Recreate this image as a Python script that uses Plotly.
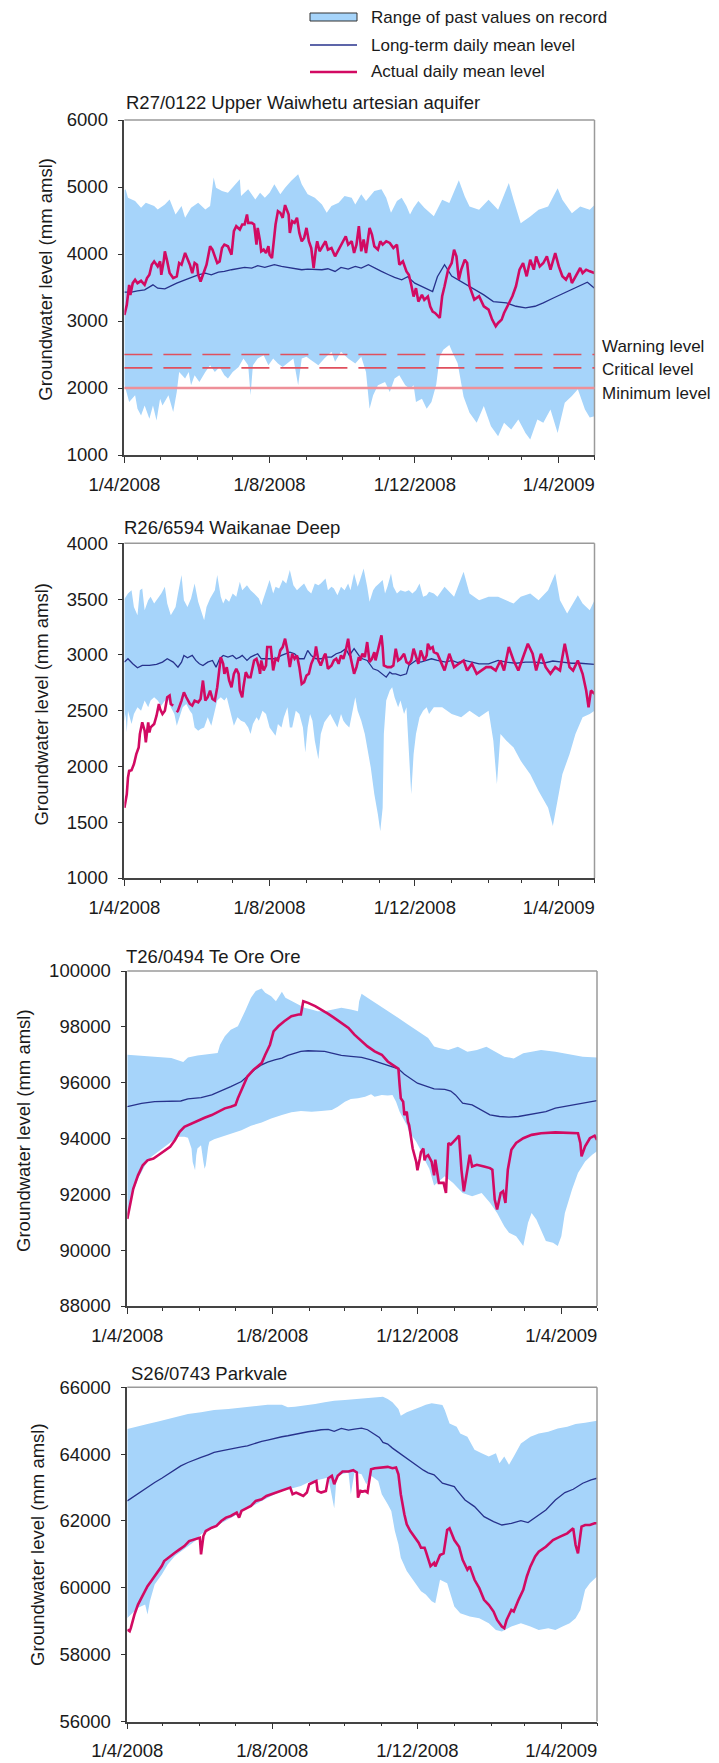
import pandas as pd
import plotly.graph_objects as go

# ---------------- DATA (day offset from 1/4/2008, value in mm amsl) ----------------
START = "2008-04-01"
END = "2009-05-01"

# R27/0122 Upper Waiwhetu artesian aquifer
p1_upper = [(0,4950),(1,4965),(3,4840),(9,4790),(14,4690),(18,4765),(25,4715),(28,4665),(34,4740),(38,4815),(43,4590),(48,4715),(51,4540),(56,4690),(62,4765),(68,4665),(72,4715),(75,5140),(77,4990),(82,4940),(87,4915),(93,5040),(97,5115),(98,4865),(104,4965),(110,4815),(114,4915),(118,4840),(122,4915),(126,5040),(131,4890),(135,4990),(140,5090),(146,5190),(149,5040),(154,4890),(160,4840),(166,4740),(170,4615),(174,4715),(180,4765),(185,4865),(191,4840),(194,4740),(199,4890),(203,4790),(210,4940),(216,4965),(220,4840),(224,4615),(229,4790),(233,4840),(237,4715),(240,4590),(243,4690),(247,4790),(252,4690),(260,4565),(267,4810),(273,4760),(281,5100),(286,4860),(290,4710),(298,4660),(306,4810),(314,4660),(323,5060),(327,4810),(333,4460),(341,4560),(348,4660),(356,4710),(364,4980),(368,4810),(376,4610),(383,4710),(391,4660),(395,4730)]
p1_lower = [(0,2050),(1,1990),(4,1790),(9,1890),(11,1690),(14,1590),(17,1740),(21,1540),(24,1740),(27,1515),(30,1840),(32,1740),(37,1890),(41,1640),(44,1940),(46,2240),(51,2140),(54,2240),(56,2040),(59,2190),(63,2090),(68,2240),(72,2340),(76,2240),(80,2315),(84,2190),(87,2140),(91,2240),(96,2315),(100,2440),(104,2340),(106,1890),(108,2340),(112,2440),(117,2490),(121,2340),(125,2440),(129,2365),(133,2315),(138,2390),(142,2440),(146,2040),(149,2440),(153,2465),(157,2415),(163,2340),(168,2440),(174,2540),(177,2390),(182,2540),(188,2440),(194,2365),(199,2465),(203,2240),(206,1690),(209,1890),(213,2040),(219,2090),(223,1940),(227,2140),(231,2190),(236,2040),(240,1990),(243,2040),(245,1790),(250,1840),(254,1690),(258,1790),(262,2050),(265,2470),(268,2570),(273,2640),(276,2520),(280,2370),(282,2170),(285,1870),(290,1630),(296,1480),(302,1730),(308,1430),(314,1280),(319,1480),(325,1380),(331,1530),(337,1330),(341,1230),(347,1530),(352,1480),(358,1680),(364,1330),(370,1780),(376,1880),(381,1980),(387,1680),(391,1560),(395,1580)]
p1_mean = [(0,3430),(6,3430),(11,3450),(17,3465),(24,3540),(28,3490),(34,3480),(38,3515),(44,3565),(51,3615),(56,3650),(62,3690),(68,3715),(73,3690),(79,3730),(84,3740),(90,3765),(96,3790),(101,3800),(107,3790),(112,3825),(118,3800),(122,3815),(126,3840),(132,3815),(138,3800),(143,3790),(149,3765),(154,3775),(160,3765),(166,3765),(171,3780),(177,3740),(182,3800),(188,3775),(194,3815),(199,3790),(205,3840),(210,3800),(216,3740),(222,3690),(227,3650),(233,3615),(238,3660),(244,3565),(250,3515),(255,3465),(259,3440),(263,3660),(269,3840),(275,3670),(283,3590),(294,3470),(302,3390),(310,3290),(321,3270),(329,3220),(337,3195),(345,3220),(352,3270),(360,3340),(372,3440),(383,3520),(389,3580),(395,3490)]
p1_actual = [(0,3090),(2,3240),(4,3540),(5,3390),(7,3565),(9,3615),(11,3565),(14,3600),(17,3540),(19,3640),(21,3690),(23,3840),(25,3890),(28,3815),(30,3890),(31,3690),(33,3890),(34,4040),(36,3890),(38,3715),(41,3640),(44,3665),(46,3865),(48,3840),(51,4015),(53,3940),(55,3840),(57,3715),(59,3865),(61,3840),(62,3690),(64,3590),(66,3690),(69,3840),(72,4115),(74,4065),(76,3965),(78,3865),(80,3890),(82,4090),(84,4140),(87,4115),(90,3990),(92,4340),(94,4415),(97,4365),(99,4440),(101,4440),(103,4590),(104,4465),(107,4465),(109,4440),(111,4140),(112,4390),(114,4190),(115,4040),(117,4065),(119,4015),(121,4115),(122,3990),(124,3940),(125,4140),(127,4440),(129,4640),(131,4615),(133,4540),(135,4730),(138,4590),(139,4315),(141,4490),(143,4465),(145,4540),(147,4315),(149,4190),(151,4240),(153,4390),(155,4190),(157,4090),(159,3790),(161,4090),(162,4190),(164,4040),(167,4140),(169,4190),(171,4065),(174,4090),(177,3965),(180,4065),(182,4140),(184,4190),(186,4265),(188,4140),(191,4190),(193,4015),(195,4140),(197,4415),(199,4040),(201,4215),(203,4015),(206,4390),(208,4290),(210,4115),(213,4065),(215,4190),(217,4140),(220,4190),(223,4165),(226,4090),(229,4140),(231,3840),(234,3890),(237,3740),(239,3690),(241,3540),(243,3365),(245,3490),(247,3290),(250,3390),(252,3315),(255,3365),(257,3215),(259,3140),(261,3120),(265,3046),(267,3369),(269,3518),(272,3766),(275,3865),(277,4064),(279,3964),(281,3617),(283,3766),(286,3915),(288,3865),(290,3518),(294,3319),(298,3369),(302,3220),(306,3170),(309,3021),(312,2922),(314,2971),(317,3021),(319,3120),(323,3269),(326,3369),(329,3518),(332,3766),(335,3865),(338,3667),(341,3915),(344,3766),(346,3964),(349,3815),(352,3865),(355,3964),(358,3766),(362,4014),(365,3815),(368,3667),(371,3617),(374,3716),(376,3567),(379,3667),(383,3791),(385,3716),(388,3766),(391,3741),(395,3716)]
p1_levels = [2500, 2300, 2000]
p1_level_names = ["Warning level", "Critical level", "Minimum level"]

# R26/6594 Waikanae Deep
p2_upper = [(0,3500),(1,3520),(3,3550),(6,3580),(8,3430),(11,3355),(13,3580),(15,3595),(17,3400),(20,3490),(22,3520),(25,3460),(28,3505),(31,3550),(34,3610),(36,3460),(39,3355),(43,3430),(45,3550),(48,3715),(50,3490),(53,3430),(56,3505),(59,3640),(62,3475),(64,3415),(67,3310),(69,3430),(72,3505),(76,3580),(78,3715),(81,3520),(83,3460),(85,3505),(88,3475),(91,3550),(94,3520),(97,3655),(99,3580),(103,3625),(106,3580),(109,3550),(113,3505),(115,3445),(118,3535),(122,3670),(125,3550),(127,3610),(130,3595),(133,3670),(136,3640),(139,3760),(142,3625),(145,3580),(148,3610),(151,3640),(154,3580),(157,3550),(160,3640),(163,3625),(165,3640),(169,3685),(171,3580),(174,3610),(176,3595),(179,3535),(182,3610),(185,3580),(188,3640),(190,3580),(193,3730),(196,3610),(198,3670),(201,3775),(204,3610),(206,3475),(209,3580),(211,3610),(214,3640),(217,3670),(219,3550),(221,3610),(224,3730),(226,3610),(229,3550),(232,3580),(236,3565),(239,3580),(242,3550),(245,3580),(248,3640),(251,3520),(254,3535),(256,3565),(260,3550),(263,3520),(269,3610),(277,3520),(285,3745),(290,3550),(298,3490),(306,3520),(314,3520),(321,3490),(327,3460),(333,3520),(341,3550),(348,3490),(356,3580),(362,3730),(366,3490),(372,3370),(377,3460),(381,3535),(385,3460),(391,3400),(395,3490)]
p2_lower = [(0,2400),(1,2470),(2,2305),(3,2500),(6,2380),(8,2470),(11,2530),(14,2500),(17,2590),(20,2530),(22,2590),(25,2620),(28,2590),(31,2545),(34,2590),(36,2620),(39,2530),(42,2470),(44,2365),(46,2440),(49,2530),(52,2560),(55,2500),(57,2470),(59,2350),(62,2320),(64,2335),(67,2350),(70,2440),(73,2365),(76,2500),(78,2590),(81,2620),(84,2590),(86,2620),(88,2530),(90,2455),(92,2365),(95,2440),(98,2410),(101,2395),(104,2350),(106,2290),(108,2380),(111,2440),(113,2410),(116,2500),(119,2470),(122,2350),(125,2305),(127,2275),(129,2380),(132,2350),(134,2440),(137,2530),(139,2350),(141,2350),(144,2500),(147,2470),(150,2350),(152,2125),(154,2350),(156,2470),(158,2410),(160,2230),(163,2065),(165,2290),(168,2395),(171,2440),(173,2470),(176,2410),(179,2350),(182,2470),(184,2410),(186,2380),(189,2350),(192,2500),(194,2620),(196,2500),(199,2410),(202,2290),(204,2170),(207,1990),(210,1750),(213,1570),(215,1420),(217,1630),(218,2290),(220,2590),(223,2680),(225,2710),(227,2620),(230,2530),(232,2590),(235,2470),(237,2530),(238,2350),(240,1930),(241,1750),(243,2110),(245,2290),(248,2440),(251,2500),(254,2530),(256,2470),(260,2530),(267,2530),(275,2470),(283,2440),(290,2500),(298,2440),(306,2500),(310,2230),(313,1840),(316,2290),(321,2230),(327,2170),(333,2050),(341,1930),(348,1780),(356,1630),(360,1465),(364,1690),(368,1930),(374,2110),(379,2290),(385,2440),(391,2470),(395,2500)]
p2_mean = [(0,2935),(3,2965),(7,2920),(11,2884),(15,2905),(21,2905),(27,2914),(32,2935),(36,2965),(41,2935),(45,2890),(48,2935),(50,2995),(53,2974),(57,2995),(60,2950),(63,2920),(66,2905),(70,2935),(74,2950),(77,2890),(80,2965),(83,2995),(87,2980),(91,2995),(94,2965),(97,2980),(99,2995),(103,2950),(106,2980),(109,2995),(112,3010),(115,2965),(119,2965),(123,2965),(127,2965),(132,2995),(136,3010),(139,3025),(143,3010),(147,2965),(151,2965),(154,3040),(157,2995),(161,2965),(165,2965),(169,2980),(174,2980),(178,3010),(182,3025),(186,3055),(189,2995),(193,3055),(197,2995),(200,2965),(204,2950),(209,2875),(213,2860),(217,2830),(220,2800),(223,2845),(225,2830),(228,2830),(232,2815),(237,2830),(239,2905),(241,2920),(245,2950),(249,2935),(254,2950),(258,2965),(263,2950),(270,2935),(275,2950),(280,2930),(286,2950),(292,2935),(298,2920),(306,2920),(314,2950),(321,2935),(329,2925),(337,2935),(345,2935),(352,2925),(360,2945),(368,2935),(376,2925),(383,2925),(395,2915)]
p2_actual = [(0,1630),(2,1750),(3,1900),(4,1960),(6,1966),(8,2020),(10,2110),(12,2170),(13,2290),(14,2365),(15,2395),(17,2320),(18,2215),(20,2395),(21,2305),(22,2350),(25,2380),(27,2455),(29,2560),(30,2515),(32,2470),(34,2500),(36,2620),(38,2635),(39,2560),(41,2545),(42,None),(44,2485),(45,2500),(48,2590),(50,2665),(52,2620),(55,2560),(57,2545),(59,2590),(62,2575),(64,2605),(66,2770),(68,2590),(70,2620),(72,2680),(74,2605),(76,2590),(78,2710),(81,2980),(83,2920),(84,2830),(86,2890),(88,2770),(90,2710),(92,2830),(94,2875),(96,2830),(97,2680),(99,2620),(100,2710),(102,2845),(104,2800),(106,2800),(109,2950),(111,2965),(113,2890),(114,2830),(115,2950),(117,2860),(119,2905),(120,3070),(123,3070),(125,2860),(127,2965),(129,2950),(131,3040),(133,3070),(135,3145),(137,3040),(139,2890),(141,3010),(143,2965),(145,2995),(147,2890),(149,2740),(151,2755),(153,2815),(155,2830),(157,2920),(160,2995),(161,3076),(163,2950),(165,2905),(168,2995),(169,3010),(171,2875),(174,2905),(176,2950),(178,2965),(180,2920),(182,2995),(184,2965),(186,3040),(188,3145),(190,2980),(193,2830),(195,2890),(197,2980),(198,2950),(200,3010),(202,2980),(204,3115),(206,2935),(208,2965),(210,3025),(211,2950),(213,3040),(216,3175),(217,3070),(218,2905),(221,2890),(224,2890),(226,2905),(228,3055),(230,2950),(232,2965),(235,3010),(237,2935),(239,2920),(241,2950),(243,3055),(245,2995),(247,2920),(249,3040),(252,2950),(254,2995),(255,3100),(257,3055),(259,3070),(260,3025),(263,3010),(266,2935),(269,2860),(273,3010),(277,2890),(281,2920),(285,2950),(288,2860),(292,2920),(296,2830),(300,2860),(304,2890),(308,2890),(312,2860),(316,2950),(319,2860),(323,3070),(327,2950),(331,2860),(335,2980),(339,3100),(343,3010),(346,2860),(350,3010),(354,2890),(358,2830),(362,2890),(366,2860),(370,3100),(374,2890),(377,2860),(381,2950),(385,2830),(388,2680),(390,2530),(392,2680),(395,2650)]

# T26/0494 Te Ore Ore
p3_upper = [(0,97000),(9,96976),(23,96940),(37,96880),(47,96736),(51,96904),(59,96976),(68,97024),(76,97060),(78,97360),(82,97660),(87,97900),(93,98020),(99,98560),(104,99040),(108,99280),(113,99376),(116,99220),(121,99100),(125,98920),(130,99256),(133,99040),(138,98920),(144,98800),(149,98680),(155,98620),(160,98560),(166,98560),(172,98620),(180,98680),(188,98620),(194,98560),(195,98920),(197,99184),(202,99040),(211,98800),(219,98560),(228,98320),(236,98080),(244,97840),(253,97600),(258,97300),(263,97230),(270,97170),(278,97290),(286,97110),(294,97170),(302,97290),(309,97110),(317,96930),(325,96870),(333,97050),(340,97110),(348,97170),(360,97110),(372,97025),(383,96930),(395,96900)]
p3_lower = [(0,91240),(3,91840),(9,92560),(15,93040),(20,93340),(26,93544),(31,93700),(37,93880),(43,94060),(48,94060),(51,94024),(54,93640),(55,93160),(57,92860),(58,93400),(59,93640),(62,93760),(64,93160),(65,92920),(66,93040),(68,93700),(69,93880),(73,93976),(79,94060),(87,94180),(96,94300),(104,94456),(113,94576),(121,94720),(130,94840),(138,94936),(146,94984),(155,94960),(163,94984),(172,95020),(177,95140),(183,95320),(188,95416),(194,95440),(200,95500),(205,95584),(208,95500),(214,95560),(219,95536),(223,95560),(226,95320),(229,94960),(232,94720),(235,94480),(237,94240),(240,94060),(243,93880),(246,93640),(249,93400),(251,93160),(254,92920),(258,92320),(267,92650),(274,92410),(282,92050),(290,91930),(298,92050),(305,91700),(311,91330),(317,90860),(321,90620),(327,90500),(333,90150),(337,90980),(340,91330),(344,91100),(348,90740),(352,90330),(358,90270),(362,90150),(365,90500),(368,91330),(374,92170),(379,92760),(385,93180),(391,93420),(395,93540)]
p3_mean = [(0,95140),(6,95200),(12,95260),(23,95320),(34,95344),(45,95344),(51,95416),(62,95464),(71,95560),(79,95704),(87,95860),(96,96040),(101,96220),(107,96460),(113,96640),(118,96736),(124,96820),(130,96880),(135,96976),(141,97060),(146,97120),(152,97144),(160,97144),(166,97120),(172,97060),(180,96976),(188,96940),(197,96904),(205,96820),(214,96700),(222,96580),(228,96496),(233,96304),(239,96136),(244,95980),(250,95896),(258,95776),(267,95760),(272,95700),(276,95560),(282,95264),(290,95204),(298,95026),(305,94850),(313,94788),(321,94764),(329,94788),(337,94850),(344,94907),(352,94966),(360,95085),(368,95145),(375,95204),(383,95264),(391,95323),(395,95360)]
p3_actual = [(0,91120),(2,91600),(5,92200),(9,92680),(13,93040),(17,93220),(22,93280),(26,93400),(31,93544),(36,93700),(40,93940),(44,94240),(48,94420),(54,94540),(59,94624),(65,94744),(71,94840),(76,94960),(82,95080),(87,95140),(91,95200),(93,95440),(97,95800),(101,96220),(106,96460),(110,96616),(113,96700),(116,97000),(120,97360),(123,97840),(127,98020),(132,98200),(138,98380),(144,98440),(146,98440),(148,98920),(152,98860),(158,98740),(163,98620),(169,98464),(174,98320),(180,98140),(186,97960),(191,97720),(197,97480),(202,97300),(208,97120),(214,97000),(219,96760),(225,96580),(228,96496),(229,95920),(230,95440),(232,95320),(233,94840),(235,94960),(236,94600),(237,94480),(240,93640),(243,93160),(244,92860),(246,93280),(247,93520),(249,93640),(250,93220),(251,93340),(253,93400),(256,93160),(258,92680),(259,93240),(262,92410),(266,92410),(268,92050),(270,93840),(272,93780),(276,93960),(279,94100),(281,92880),(283,92110),(286,92880),(288,93420),(290,93000),(294,93060),(300,93000),(305,92940),(307,92880),(309,91810),(311,91460),(314,92050),(316,92110),(318,91690),(320,92880),(323,93600),(327,93840),(333,94010),(340,94130),(348,94190),(360,94220),(372,94190),(379,94190),(381,93840),(382,93360),(385,93720),(389,94010),(393,94100),(395,93950)]

# S26/0743 Parkvale
p4_upper = [(0,64750),(9,64820),(17,64900),(26,64980),(34,65050),(43,65120),(51,65200),(62,65250),(73,65320),(85,65350),(96,65400),(107,65450),(118,65480),(130,65480),(135,65400),(141,65420),(149,65450),(158,65500),(166,65550),(174,65600),(183,65620),(191,65650),(200,65680),(208,65700),(215,65720),(219,65650),(223,65550),(228,65350),(230,65150),(235,65250),(239,65300),(243,65350),(247,65420),(251,65480),(256,65520),(260,65500),(265,65470),(267,65320),(271,64920),(277,64820),(280,64620),(286,64520),(292,64130),(298,64030),(304,63930),(310,64030),(313,63730),(317,63930),(321,63680),(325,63930),(331,64320),(339,64520),(346,64620),(354,64670),(362,64770),(370,64820),(377,64900),(385,64940),(395,65000)]
p4_lower = [(0,59100),(3,59200),(9,59400),(15,59500),(17,59200),(19,59600),(23,60100),(29,60400),(34,60700),(40,60950),(45,61100),(51,61250),(57,61400),(62,61600),(68,61700),(73,61800),(79,61920),(85,62050),(90,62150),(96,62280),(101,62380),(107,62480),(113,62600),(118,62700),(124,62800),(130,62900),(135,62950),(141,63000),(146,63050),(152,63150),(158,63200),(163,63250),(169,63300),(174,62380),(176,63300),(180,63400),(186,63450),(188,62800),(191,63450),(197,63400),(201,63100),(205,63350),(211,63200),(214,62800),(216,62700),(219,62500),(222,62300),(225,61700),(228,61300),(230,60900),(235,60500),(239,60300),(243,60100),(247,59900),(251,59800),(256,59600),(259,59540),(263,60240),(269,60140),(275,59440),(280,59240),(288,59140),(296,59090),(304,58940),(310,58740),(315,58690),(323,58840),(331,58940),(339,58840),(346,58740),(354,58790),(360,58740),(366,58840),(372,58940),(377,59090),(381,59340),(385,59940),(389,60140),(395,60340)]
p4_mean = [(0,62600),(6,62750),(12,62900),(17,63020),(23,63150),(29,63280),(34,63400),(40,63520),(45,63650),(51,63750),(57,63820),(62,63900),(68,63980),(73,64050),(79,64100),(85,64150),(90,64180),(96,64220),(101,64250),(107,64320),(113,64380),(118,64420),(124,64480),(130,64520),(135,64550),(141,64600),(146,64630),(152,64670),(158,64700),(163,64730),(169,64740),(174,64680),(180,64770),(186,64720),(191,64750),(197,64780),(202,64730),(208,64600),(212,64500),(215,64350),(219,64300),(223,64180),(228,64050),(232,63950),(236,63850),(240,63750),(244,63650),(249,63520),(253,63440),(258,63380),(265,63130),(275,63030),(277,62930),(284,62630),(292,62430),(300,62130),(308,61980),(315,61880),(323,61930),(331,62010),(337,61950),(344,62130),(352,62330),(360,62630),(368,62850),(375,62950),(383,63130),(390,63230),(395,63280)]
p4_actual = [(0,58750),(2,58700),(3,58800),(6,59200),(9,59500),(12,59700),(15,59900),(17,60050),(20,60200),(23,60350),(26,60500),(29,60650),(31,60800),(36,60950),(40,61050),(44,61150),(48,61250),(52,61400),(57,61450),(61,61500),(62,61000),(64,61550),(66,61700),(71,61800),(75,61850),(79,62000),(83,62100),(87,62150),(92,62250),(94,62100),(96,62300),(100,62380),(104,62450),(108,62600),(113,62650),(117,62750),(121,62800),(125,62850),(130,62900),(134,62950),(137,63000),(139,62800),(142,62850),(145,62800),(148,62750),(151,62850),(153,63100),(156,63150),(159,63200),(160,62900),(163,62850),(167,62900),(169,63280),(172,63350),(174,63100),(177,63350),(179,63420),(181,63480),(186,63480),(190,63520),(193,63450),(194,62700),(196,62900),(198,62880),(200,62900),(202,62850),(203,63100),(205,63550),(208,63580),(214,63600),(219,63620),(223,63580),(226,63600),(228,63400),(230,62800),(233,62200),(235,61900),(238,61700),(242,61500),(245,61350),(247,61200),(250,61200),(251,61100),(253,60900),(255,60650),(258,60750),(259,60640),(263,60980),(266,61030),(269,61730),(271,61780),(275,61430),(279,61230),(282,60840),(286,60540),(288,60640),(292,60240),(296,59990),(300,59640),(304,59490),(308,59290),(311,59040),(315,58840),(317,58790),(319,59040),(323,59340),(325,59290),(329,59640),(333,59940),(336,60340),(339,60640),(343,60940),(346,61080),(352,61230),(358,61430),(364,61530),(370,61630),(375,61780),(377,61280),(379,61030),(380,61330),(382,61830),(385,61880),(389,61880),(393,61930),(395,61930)]

titles = ["R27/0122 Upper Waiwhetu artesian aquifer", "R26/6594 Waikanae Deep",
          "T26/0494 Te Ore Ore", "S26/0743 Parkvale"]
y_ranges = [(1000, 6000), (1000, 4000), (88000, 100000), (56000, 66000)]
y_steps = [1000, 500, 2000, 2000]
legend_names = ["Range of past values on record", "Long-term daily mean level", "Actual daily mean level"]
y_title = "Groundwater level (mm amsl)"

# ---------------- STYLE / LAYOUT ----------------
W, H = 719, 1763
FONT = "Liberation Sans, Arial, Helvetica, sans-serif"
BAND = "#a6d4fa"
MEAN = "#27328c"
ACT = "#d20a62"
TXT = "#1a1a1a"

# pixel boxes (left, top, right, bottom) of each plotting area
boxes = [(124.4, 120, 594.5, 455), (124.4, 543.3, 594.5, 878),
         (127.3, 971, 597, 1306), (127.3, 1387.3, 597, 1721.5)]
title_pos = [(123.5, 103), (122, 528), (123.5, 956), (129, 1373)]
ytitle_pos = [(44.7, 279), (41.6, 704), (23, 1131), (37, 1545)]

def px(x):
    return x / W

def py(y):
    return 1 - y / H

base = pd.Timestamp(START)

def to_xy(pairs):
    days = [p[0] for p in pairs]
    vals = [p[1] for p in pairs]
    dates = base + pd.to_timedelta(days, unit="D")
    return [d.strftime("%Y-%m-%d") for d in dates], vals

data = [(p1_upper, p1_lower, p1_mean, p1_actual), (p2_upper, p2_lower, p2_mean, p2_actual),
        (p3_upper, p3_lower, p3_mean, p3_actual), (p4_upper, p4_lower, p4_mean, p4_actual)]

fig = go.Figure()
layout = {}
shapes = []
annotations = []

for i, (upper, lower, mean, actual) in enumerate(data):
    n = "" if i == 0 else str(i + 1)
    xa, ya = "x" + n, "y" + n
    ux, uy = to_xy(upper)
    lx, ly = to_xy(lower)
    fig.add_trace(go.Scatter(x=ux + lx[::-1], y=uy + ly[::-1], fill="toself", fillcolor=BAND,
                             line=dict(width=0), mode="lines", xaxis=xa, yaxis=ya,
                             name=legend_names[0], showlegend=False, hoverinfo="skip"))
    mx, my = to_xy(mean)
    fig.add_trace(go.Scatter(x=mx, y=my, mode="lines", line=dict(color=MEAN, width=1.3),
                             xaxis=xa, yaxis=ya, name=legend_names[1], showlegend=False))
    ax_, ay_ = to_xy(actual)
    fig.add_trace(go.Scatter(x=ax_, y=ay_, mode="lines", line=dict(color=ACT, width=2.6),
                             connectgaps=False, xaxis=xa, yaxis=ya, name=legend_names[2],
                             showlegend=False))

    l, t, r, b = boxes[i]
    layout["xaxis" + n] = dict(
        domain=[px(l), px(r)], anchor=ya, type="date", range=[START, END], automargin=False,
        tick0=START, dtick="M4", tickformat="%-d/%-m/%Y",
        ticks="outside", ticklen=6, tickwidth=1.2, tickcolor="#333",
        showline=True, linecolor="#444", linewidth=1.5, showgrid=False, zeroline=False,
        tickfont=dict(family=FONT, size=18.5, color=TXT), ticklabelstandoff=6,
        minor=dict(dtick="M1", tick0=START, ticks="outside", ticklen=3, tickwidth=1,
                   tickcolor="#333", showgrid=False))
    y0, y1 = y_ranges[i]
    layout["yaxis" + n] = dict(
        domain=[py(b), py(t)], anchor=xa, range=[y0, y1], tick0=y0, dtick=y_steps[i],
        automargin=False,
        tickformat="d", ticks="outside", ticklen=5, tickwidth=1.2, tickcolor="#333",
        showline=True, linecolor="#444", linewidth=1.5, showgrid=False, zeroline=False,
        tickfont=dict(family=FONT, size=18.5, color=TXT), ticklabelstandoff=6)

    # top / right frame lines (lighter grey)
    shapes.append(dict(type="line", xref="paper", yref="paper", x0=px(l), x1=px(r),
                       y0=py(t), y1=py(t), line=dict(color="#9a9a9a", width=1.5)))
    shapes.append(dict(type="line", xref="paper", yref="paper", x0=px(r), x1=px(r),
                       y0=py(t), y1=py(b), line=dict(color="#9a9a9a", width=1.5)))

    annotations.append(dict(text=titles[i], xref="paper", yref="paper",
                            x=px(title_pos[i][0]), y=py(title_pos[i][1]),
                            xanchor="left", yanchor="middle", showarrow=False,
                            font=dict(family=FONT, size=18.5, color=TXT)))
    annotations.append(dict(text=y_title, xref="paper", yref="paper",
                            x=px(ytitle_pos[i][0]), y=py(ytitle_pos[i][1]), textangle=-90,
                            xanchor="center", yanchor="middle", showarrow=False,
                            font=dict(family=FONT, size=18.5, color=TXT)))

# threshold levels on the first panel
level_styles = [dict(color="#e0505e", width=1.6, dash="28px,11px"),
                dict(color="#e0505e", width=1.6, dash="28px,11px"),
                dict(color="#ee9099", width=2.5, dash="solid")]
level_label_y = [346.7, 369, 393]
for lv, nm, st, ly_ in zip(p1_levels, p1_level_names, level_styles, level_label_y):
    shapes.append(dict(type="line", xref="x domain", yref="y", x0=0, x1=1, y0=lv, y1=lv,
                       line=st, layer="above"))
    annotations.append(dict(text=nm, xref="paper", yref="paper", x=px(600), y=py(ly_),
                            xanchor="left", yanchor="middle", showarrow=False,
                            font=dict(family=FONT, size=17, color=TXT)))

# legend (drawn at the top)
shapes.append(dict(type="rect", xref="paper", yref="paper", x0=px(310), x1=px(357),
                   y0=py(21), y1=py(13), fillcolor=BAND, line=dict(color="#333", width=1)))
shapes.append(dict(type="line", xref="paper", yref="paper", x0=px(310), x1=px(357),
                   y0=py(45), y1=py(45), line=dict(color=MEAN, width=1.5)))
shapes.append(dict(type="line", xref="paper", yref="paper", x0=px(310), x1=px(357),
                   y0=py(72), y1=py(72), line=dict(color=ACT, width=2.5)))
for nm, yy in zip(legend_names, [17, 45, 72]):
    annotations.append(dict(text=nm, xref="paper", yref="paper", x=px(369), y=py(yy),
                            xanchor="left", yanchor="middle", showarrow=False,
                            font=dict(family=FONT, size=17, color=TXT)))

fig.update_layout(**layout)
fig.update_layout(width=W, height=H, margin=dict(l=0, r=0, t=0, b=0, autoexpand=False),
                  paper_bgcolor="white", plot_bgcolor="white", showlegend=False,
                  shapes=shapes, annotations=annotations,
                  font=dict(family=FONT, color=TXT))

fig.write_html("out.html", config={"displayModeBar": False},
               post_script="document.body.style.margin='0px';document.body.style.overflow='hidden';")
